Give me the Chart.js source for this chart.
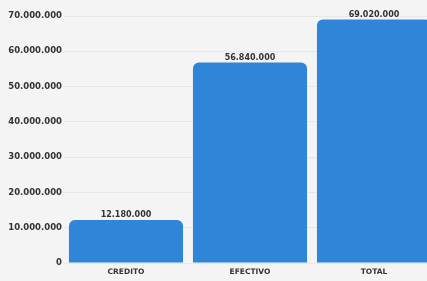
<!DOCTYPE html>
<html>
<head>
<meta charset="utf-8">
<script src="https://cdn.jsdelivr.net/npm/chart.js@4"></script>
<style>
  html, body { margin: 0; padding: 0; overflow: hidden; background: #f4f4f4; }
  #wrap { width: 436px; height: 281px; position: relative; }
</style>
</head>
<body>
<div id="wrap"><canvas id="c"></canvas></div>
<script>
const categories = ["CREDITO", "EFECTIVO", "TOTAL"];
const values = [12180000, 56840000, 69020000];
const yTickMax = 70000000;
const yTickStep = 10000000;

function fmt(v) {
  return String(Math.round(v)).replace(/\B(?=(\d{3})+(?!\d))/g, ".");
}

const FONT = "'DejaVu Sans', sans-serif";

const valueLabels = {
  id: "valueLabels",
  afterDatasetsDraw(chart) {
    const ctx = chart.ctx;
    const meta = chart.getDatasetMeta(0);
    ctx.save();
    ctx.font = "bold 8px " + FONT;
    ctx.fillStyle = "#333";
    ctx.textAlign = "center";
    ctx.textBaseline = "bottom";
    meta.data.forEach((bar, i) => {
      ctx.fillText(fmt(values[i]), bar.x, bar.y - 1);
    });
    ctx.restore();
  }
};

new Chart(document.getElementById("c"), {
  type: "bar",
  data: {
    labels: categories,
    datasets: [{
      data: values,
      backgroundColor: "#2f86d8",
      borderRadius: { topLeft: 6, topRight: 6, bottomLeft: 0, bottomRight: 0 },
      borderSkipped: "bottom",
      categoryPercentage: 1.0,
      barPercentage: 0.92
    }]
  },
  options: {
    responsive: true,
    maintainAspectRatio: false,
    animation: false,
    layout: { padding: { top: 16, bottom: 0, left: 0, right: 0 } },
    plugins: { legend: { display: false }, tooltip: { enabled: false } },
    scales: {
      x: {
        afterFit(scale) { scale.height = 18; },
        grid: { display: false, drawTicks: false },
        border: { display: false },
        ticks: { font: { family: FONT, size: 7.5, weight: "bold" }, color: "#333", padding: 5 }
      },
      y: {
        min: 0,
        max: yTickMax,
        afterFit(scale) { scale.width = 64; },
        grid: { color: "#e8e8e8", lineWidth: 1, drawTicks: false },
        border: { display: false },
        ticks: {
          stepSize: yTickStep,
          padding: 2,
          font: { family: FONT, size: 8.5, weight: "bold" },
          color: "#333",
          callback: (v) => fmt(v)
        }
      }
    }
  },
  plugins: [valueLabels]
});
</script>
</body>
</html>
